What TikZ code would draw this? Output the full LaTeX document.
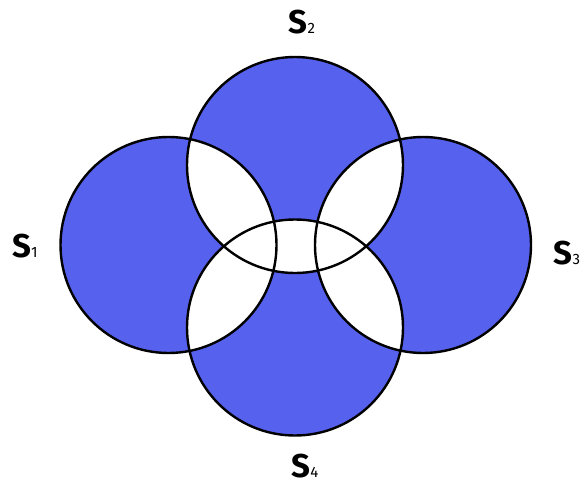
\documentclass[tikz,border=0pt]{standalone}
\usepackage{fontspec}
\setmainfont{Fira Sans}
\definecolor{setblue}{RGB}{86,98,238}
\begin{document}
\begin{tikzpicture}[x=1pt,y=-1pt,
  outline/.style={draw=black,line width=2.4pt},
  setlabel/.style={inner sep=0pt,anchor=base,text depth=0pt,font=\fontsize{33}{33}\selectfont\bfseries}]
\useasboundingbox (0,0) rectangle (584,485);
\def\R{108}
\coordinate (c1) at (168.5,245);
\coordinate (c2) at (295,165);
\coordinate (c3) at (423,245);
\coordinate (c4) at (295,327.5);
% single-set regions blue
\foreach \c in {c1,c2,c3,c4} \fill[setblue] (\c) circle (\R);
% overlaps white
\foreach \a/\b in {c1/c2,c2/c3,c3/c4,c4/c1,c2/c4}{
  \begin{scope}
    \clip (\a) circle (\R);
    \fill[white] (\b) circle (\R);
  \end{scope}
}
\foreach \c in {c1,c2,c3,c4} \draw[outline] (\c) circle (\R);
\newcommand{\sub}[1]{{\mdseries\fontsize{15}{15}\selectfont #1}}
\node[setlabel] (l1) at (25,257) {S\sub{1}};
\node[setlabel] (l2) at (302,33) {S\sub{2}};
\node[setlabel] (l3) at (567,264) {S\sub{3}};
\node[setlabel] (l4) at (305,477) {S\sub{4}};
\end{tikzpicture}
\end{document}
